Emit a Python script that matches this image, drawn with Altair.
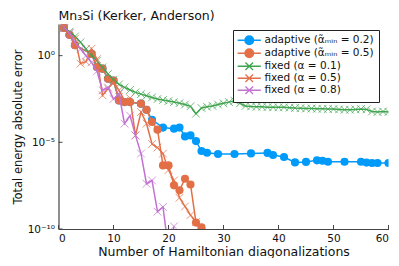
import altair as alt
import pandas as pd

# ---- data (log10 of total energy absolute error) ----
labels = ["adaptive (α̃ₘᵢₙ = 0.2)", "adaptive (α̃ₘᵢₙ = 0.5)",
          "fixed (α = 0.1)", "fixed (α = 0.5)", "fixed (α = 0.8)"]
colors = ["#009AFA", "#E36F47", "#3EA44E", "#E36F47", "#C371D2"]
kinds = ["adaptive", "adaptive", "fixed", "fixed", "fixed"]

ad02_x = [1, 2, 3, 6, 7, 8, 9, 10, 11, 12, 13, 15, 16, 17, 19, 21, 22, 23, 24, 25,
          26, 27, 29, 32, 35, 38, 39, 41, 43, 45, 47, 48, 49, 52, 55, 56, 57, 58, 60]
ad02_log = [1.6, 1.2, 0.6, 0.1, -0.66, -0.75, -1.33, -1.43, -2.58, -2.68, -2.68, -2.77,
            -3.12, -3.7, -4.15, -4.21, -4.15, -4.66, -4.6, -4.93, -5.5, -5.6, -5.67,
            -5.67, -5.64, -5.61, -5.73, -5.85, -6.16, -6.13, -6.04, -6.06, -6.12, -6.12,
            -6.12, -6.17, -6.19, -6.19, -6.19]

ad05_x = [1, 2, 3, 6, 7, 8, 9, 10, 11, 12, 13, 15, 16, 17, 18, 19, 20, 21, 22, 23,
          24, 25, 26]
ad05_log = [1.6, 1.2, 0.6, 0.1, -0.66, -0.75, -1.33, -1.43, -2.58, -2.68, -2.68, -2.77,
            -3.12, -3.83, -4.27, -6.33, -6.33, -7.48, -7.77, -7.1, -7.43, -9.63, -9.9]

fx01_x = list(range(1, 61))
fx01_log = [1.57, 1.38, 1.11, 0.77, 0.38, 0.03, -0.29, -0.68, -1.06, -1.39,
            -1.66, -1.83, -1.98, -2.12, -2.22, -2.31, -2.41, -2.5, -2.56, -2.62,
            -2.68, -2.74, -2.82, -2.92, -3.35, -3.02, -2.95, -2.9, -2.82, -2.75,
            -2.68, -2.6, -2.75, -2.9, -2.93, -2.95, -2.95, -2.97, -2.98, -2.98,
            -2.98, -3.0, -3.02, -3.03, -3.05, -3.05, -3.06, -3.07, -3.08, -3.08,
            -3.1, -3.12, -3.12, -3.1, -3.08, -3.1, -3.22, -3.25, -3.22, -3.25]

fx05_x = list(range(1, 27))
fx05_log = [1.6, 1.3, 0.98, -0.46, -0.35, 0.4, -0.2, -2.29, -1.9, -1.52, -2.0, -2.6,
            -2.45, -4.6, -3.25, -3.92, -5.1, -5.3, -5.65, -6.6, -7.2, -8.2, -8.7, -9.2,
            -9.6, -10.2]

fx08_x = list(range(1, 22))
fx08_log = [1.63, 1.3, 0.75, 0.38, 0.0, -0.39, -0.9, -2.0, -1.83, -2.5, -2.2, -3.92,
            -3.46, -4.6, -5.65, -7.39, -7.2, -9.0, -8.73, -11.2, -9.85]

series_x = [ad02_x, ad05_x, fx01_x, fx05_x, fx08_x]
series_log = [ad02_log, ad05_log, fx01_log, fx05_log, fx08_log]

x_ticks = [0, 10, 20, 30, 40, 50, 60]
y_ticks = [1e-10, 1e-5, 1.0]

W, H = 330, 205
FONT = "DejaVu Sans"

xscale = alt.Scale(domain=[0, 60], nice=False, zero=False)
yscale = alt.Scale(type="log", domain=[1e-10, 67], nice=False)

x_axis = alt.Axis(values=x_ticks, title="Number of Hamiltonian diagonalizations",
                  grid=False, tickSize=0, labelPadding=4, titlePadding=2,
                  titleFontSize=12.5)
y_axis = alt.Axis(values=y_ticks, title="Total energy absolute error", grid=False,
                  tickSize=0, labelPadding=4, titlePadding=4, titleFontSize=11.5,
                  labelExpr="round(log(datum.value)/LN10) == 0 ? '10⁰' : "
                            "(round(log(datum.value)/LN10) == -5 ? '10⁻⁵' : '10⁻¹⁰')")

X = alt.X("x:Q", scale=xscale, axis=x_axis)
Y = alt.Y("err:Q", scale=yscale, axis=y_axis)

cross = "M-1,-1L1,1M-1,1L1,-1"

layers = []
for i, lab in enumerate(labels):
    df = pd.DataFrame({"x": series_x[i],
                       "err": [10 ** v for v in series_log[i]],
                       "series": lab})
    base = alt.Chart(df)
    line = base.mark_line(color=colors[i], strokeWidth=1.5, clip=True).encode(x=X, y=Y)
    if kinds[i] == "adaptive":
        pts = base.mark_point(shape="circle", filled=True, size=66, color=colors[i],
                              opacity=1, clip=True)
    else:
        pts = base.mark_point(shape=cross, filled=False, size=60, color=colors[i],
                              strokeWidth=1, opacity=0.7, clip=True)
    layers += [line, pts.encode(x=X, y=Y)]

# inward tick marks
xt = alt.Chart(pd.DataFrame({"x": x_ticks})).mark_rule(color="#444", strokeWidth=1).encode(
    x=X, y=alt.value(H), y2=alt.value(H - 4))
yt = alt.Chart(pd.DataFrame({"err": y_ticks})).mark_rule(color="#444", strokeWidth=1).encode(
    y=Y, x=alt.value(0), x2=alt.value(4))

# legend carrier (points out of view)
circ = "M-2.9,0H2.9M-1.08,0A1.08,1.08 0 1,0 1.08,0A1.08,1.08 0 1,0 -1.08,0Z"
xs = "M-2.9,0H2.9M-0.95,-0.95L0.95,0.95M-0.95,0.95L0.95,-0.95"
leg_shapes = [circ, circ, xs, xs, xs]
fills = ["#009AFA", "#E36F47", "transparent", "transparent", "transparent"]

legend = alt.Legend(
    title=None, orient="none", legendX=174.5, legendY=6,
    fillColor="white", strokeColor="#222", padding=5,
    cornerRadius=0, symbolSize=64, symbolStrokeWidth=1.3,
    symbolOffset=6, labelOffset=10, rowPadding=-3.5,
    labelFont=FONT, labelFontSize=10.5, labelColor="#111")

legdf = pd.DataFrame({"x": [1] * 5, "err": [1e-30] * 5, "series": labels})
leg = alt.Chart(legdf).mark_point(clip=True, opacity=1).encode(
    x=X, y=Y,
    fill=alt.Fill("series:N", scale=alt.Scale(domain=labels, range=fills), legend=legend),
    stroke=alt.Stroke("series:N", scale=alt.Scale(domain=labels, range=colors), legend=legend),
    shape=alt.Shape("series:N", scale=alt.Scale(domain=labels, range=leg_shapes), legend=legend),
)

chart = alt.layer(*layers, xt, yt, leg).properties(
    width=W, height=H,
    title=alt.TitleParams("Mn₃Si (Kerker, Anderson)", anchor="start", frame="group",
                          fontSize=12.5, fontWeight="normal", font=FONT, color="#111",
                          offset=2),
    autosize=alt.AutoSizeParams(type="none"),
    padding={"left": 50.5, "top": 16, "right": 2.5, "bottom": 29},
).configure_view(stroke=None).configure_axis(
    domainColor="#444", domainWidth=1.2, labelFont=FONT, titleFont=FONT,
    labelFontSize=10.5, labelColor="#111", titleColor="#111",
    titleFontWeight="normal",
)

chart.save("out.html", embed_options={"renderer": "svg", "actions": False})
